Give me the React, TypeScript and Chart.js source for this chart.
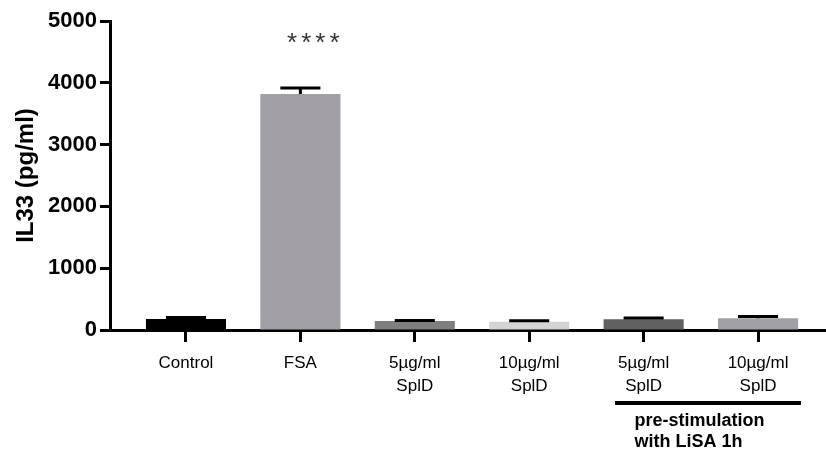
import React, { useEffect, useRef } from "react";
import { Chart, registerables } from "chart.js";

Chart.register(...registerables);

// ---- data ----
const categories: string[][] = [
  ["Control"],
  ["FSA"],
  ["5µg/ml", "SplD"],
  ["10µg/ml", "SplD"],
  ["5µg/ml", "SplD"],
  ["10µg/ml", "SplD"],
];
const values = [180, 3820, 145, 135, 173, 190];
const errors = [22, 95, 10, 16, 20, 27];
const barColors = ["#000000", "#a19fa5", "#7f7f7f", "#d4d4d4", "#616161", "#a1a0a4"];
const yTicks = [0, 1000, 2000, 3000, 4000, 5000];
const yTitle = "IL33 (pg/ml)";
const significance = "****";
const significanceIndex = 1;
const groupNote = ["pre-stimulation", "with LiSA 1h"];
const groupedFrom = 4;
const groupedTo = 5;

const FONT = "'Liberation Sans', Arial, sans-serif";

export default function App() {
  const ref = useRef<HTMLCanvasElement | null>(null);

  useEffect(() => {
    if (!ref.current) return;

    const errorBars = {
      id: "errorBars",
      afterDatasetsDraw(chart: any) {
        const ctx = chart.ctx;
        const meta = chart.getDatasetMeta(0);
        const ys = chart.scales.y;
        ctx.save();
        ctx.strokeStyle = "#000";
        ctx.lineWidth = 3;
        ctx.lineCap = "butt";
        meta.data.forEach((bar: any, i: number) => {
          const x = bar.x;
          const top = bar.y;
          const yE = ys.getPixelForValue(values[i] + errors[i]);
          const half = bar.width / 4;
          ctx.beginPath();
          ctx.moveTo(x, top);
          ctx.lineTo(x, yE);
          ctx.moveTo(x - half, yE);
          ctx.lineTo(x + half, yE);
          ctx.stroke();
        });
        ctx.restore();
      },
    };

    const annotations = {
      id: "annotations",
      afterDraw(chart: any) {
        const ctx = chart.ctx;
        const xs = chart.scales.x;
        const ys = chart.scales.y;
        ctx.save();
        // significance stars
        ctx.fillStyle = "#333";
        ctx.font = `26px ${FONT}`;
        (ctx as any).letterSpacing = "4px";
        ctx.textAlign = "center";
        ctx.textBaseline = "middle";
        const sx = xs.getPixelForValue(significanceIndex + 0.13);
        const sy = ys.getPixelForValue(values[significanceIndex] + errors[significanceIndex] + 720);
        ctx.fillText(significance, sx, sy);
        (ctx as any).letterSpacing = "0px";
        // group bar
        const x1 = xs.getPixelForValue(groupedFrom - 0.25);
        const x2 = xs.getPixelForValue(groupedTo + 0.375);
        const ly = chart.chartArea.bottom + 73;
        ctx.strokeStyle = "#000";
        ctx.lineWidth = 4;
        ctx.beginPath();
        ctx.moveTo(x1, ly);
        ctx.lineTo(x2, ly);
        ctx.stroke();
        ctx.fillStyle = "#000";
        ctx.font = `bold 18px ${FONT}`;
        ctx.textAlign = "left";
        ctx.textBaseline = "middle";
        const tx = xs.getPixelForValue(groupedFrom - 0.08);
        groupNote.forEach((line, i) => ctx.fillText(line, tx, ly + 18 + i * 21));
        ctx.restore();
      },
    };

    const chart = new Chart(ref.current, {
      type: "bar",
      data: {
        datasets: [
          {
            data: values.map((v, i) => ({ x: i, y: v })),
            backgroundColor: barColors,
            borderWidth: 0,
            barPercentage: 0.7,
            categoryPercentage: 1,
          },
        ],
      },
      options: {
        responsive: false,
        animation: false,
        layout: { padding: { top: 21, left: 0, right: 0, bottom: 0 } },
        plugins: { legend: { display: false }, tooltip: { enabled: false } },
        scales: {
          x: {
            type: "linear",
            min: -0.664,
            max: 5.594,
            offset: false,
            z: 1,
            afterFit(scale: any) {
              scale.height = 122;
            },
            afterBuildTicks(scale: any) {
              scale.ticks = categories.map((_, i) => ({ value: i }));
            },
            grid: {
              offset: false,
              drawOnChartArea: false,
              drawTicks: true,
              tickLength: 12,
              tickWidth: 3,
              tickColor: "#000",
            },
            border: { display: true, width: 3, color: "#000" },
            ticks: {
              autoSkip: false,
              maxRotation: 0,
              padding: 9,
              color: "#000",
              font: { family: FONT, size: 17, lineHeight: 1.4 },
              callback: (v: any) => categories[Math.round(Number(v))] ?? "",
            },
          },
          y: {
            min: 0,
            max: 5000,
            afterFit(scale: any) {
              scale.width = 110;
            },
            afterBuildTicks(scale: any) {
              scale.ticks = yTicks.map((v) => ({ value: v }));
            },
            grid: {
              drawOnChartArea: false,
              drawTicks: true,
              tickLength: 10,
              tickWidth: 3,
              tickColor: "#000",
            },
            border: { display: true, width: 3, color: "#000" },
            ticks: {
              padding: 3,
              color: "#000",
              font: { family: FONT, size: 22, weight: "bold" },
              callback: (v: any) => String(v),
            },
            title: {
              display: true,
              text: yTitle,
              color: "#000",
              font: { family: FONT, size: 24, weight: "bold" },
              padding: { top: 12, bottom: 0 },
            },
          },
        },
      },
      plugins: [errorBars, annotations],
    } as any);

    return () => chart.destroy();
  }, []);

  return (
    <div style={{ position: "fixed", left: 0, top: 0, width: 826, height: 452, background: "#fff" }}>
      <canvas ref={ref} width={826} height={452} />
    </div>
  );
}
